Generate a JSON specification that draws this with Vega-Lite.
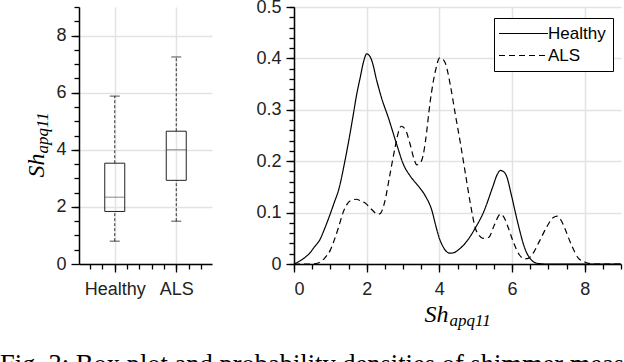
{
  "$schema": "https://vega.github.io/schema/vega-lite/v6.json",
  "padding": {"left": 0, "top": -2, "right": 0, "bottom": 0},
  "spacing": 43,
  "title": {"text": "Fig. 3: Box plot and probability densities of shimmer measures", "orient": "bottom", "anchor": "start", "font": "Liberation Serif", "fontSize": 26.5, "fontWeight": "normal", "color": "black", "offset": 24, "dx": -24},
  "config": {
    "view": {"stroke": null},
    "font": "Liberation Sans",
    "axis": {"labelFont": "Liberation Sans", "labelFontSize": 18, "labelColor": "#222", "domainColor": "black", "domainWidth": 1.5, "ticks": true, "tickColor": "black", "tickOpacity": 1, "tickWidth": 1.3, "gridColor": "#e3e3e3", "gridWidth": 1.5, "titleColor": "black", "titleFont": "Liberation Serif", "titleFontStyle": "italic", "titleFontWeight": "normal"}
  },
  "hconcat": [
    {
      "width": 133,
      "height": 257,
      "data": {"values": [
        {"group": "Healthy", "pos": 1, "lower": 0.8, "q1": 1.84, "median": 2.34, "q3": 3.53, "upper": 5.88},
        {"group": "ALS", "pos": 2, "lower": 1.5, "q1": 2.93, "median": 4.0, "q3": 4.65, "upper": 7.25}
      ]},
      "resolve": {"axis": {"x": "independent", "y": "independent"}},
      "layer": [
        {
          "mark": {"type": "rule", "strokeDash": [3, 2], "color": "black", "strokeWidth": 0.8},
          "encoding": {
            "x": {"field": "pos", "type": "quantitative", "scale": {"domain": [0.5, 2.5], "nice": false, "zero": false},
                  "axis": {"orient": "bottom", "values": [1, 2], "labelExpr": "datum.value == 1 ? 'Healthy' : 'ALS'", "grid": true, "ticks": true, "tickSize": 8, "labelPadding": 8, "title": null}},
            "y": {"field": "q3", "type": "quantitative", "scale": {"domain": [0, 9], "nice": false},
                  "axis": {"orient": "left", "values": [0, 2, 4, 6, 8], "grid": true, "ticks": true, "tickSize": 8, "labelPadding": 5, "title": "Sh", "titleFontSize": 24, "titleAngle": -90, "titleX": -36, "titleY": 170, "titleAlign": "left", "titleBaseline": "alphabetic"}},
            "y2": {"field": "upper"}
          }
        },
        {
          "mark": {"type": "rule", "strokeDash": [3, 2], "color": "black", "strokeWidth": 0.8},
          "encoding": {
            "x": {"field": "pos", "type": "quantitative",
                  "axis": {"orient": "bottom", "values": [0.6, 0.8, 1, 1.2, 1.4, 1.6, 1.8, 2, 2.2, 2.4], "ticks": true, "tickSize": 5, "labels": false, "domain": false, "grid": false, "title": null}},
            "y": {"field": "lower", "type": "quantitative",
                  "axis": {"orient": "left", "values": [0.5, 1, 1.5, 2, 2.5, 3, 3.5, 4, 4.5, 5, 5.5, 6, 6.5, 7, 7.5, 8, 8.5, 9], "ticks": true, "tickSize": 5, "labels": false, "domain": false, "grid": false, "title": "apq11", "titleFontSize": 17, "titleAngle": -90, "titleX": -32, "titleY": 146, "titleAlign": "left", "titleBaseline": "alphabetic"}},
            "y2": {"field": "q1"}
          }
        },
        {
          "mark": {"type": "bar", "filled": false, "stroke": "#222", "strokeWidth": 1, "width": 20},
          "encoding": {
            "x": {"field": "pos", "type": "quantitative", "axis": null},
            "y": {"field": "q1", "type": "quantitative", "axis": null},
            "y2": {"field": "q3"}
          }
        },
        {
          "mark": {"type": "tick", "orient": "horizontal", "color": "#555", "size": 20, "thickness": 1},
          "encoding": {
            "x": {"field": "pos", "type": "quantitative", "axis": null},
            "y": {"field": "median", "type": "quantitative", "axis": null}
          }
        },
        {
          "mark": {"type": "tick", "orient": "horizontal", "color": "black", "size": 10, "thickness": 1},
          "encoding": {
            "x": {"field": "pos", "type": "quantitative", "axis": null},
            "y": {"field": "upper", "type": "quantitative", "axis": null}
          }
        },
        {
          "mark": {"type": "tick", "orient": "horizontal", "color": "black", "size": 10, "thickness": 1},
          "encoding": {
            "x": {"field": "pos", "type": "quantitative", "axis": null},
            "y": {"field": "lower", "type": "quantitative", "axis": null}
          }
        }
      ]
    },
    {
      "width": 327,
      "height": 257,
      "data": {"values": [
        {"group": "Healthy", "x": 0, "density": 0},
        {"group": "Healthy", "x": 0.11, "density": 0.004},
        {"group": "Healthy", "x": 0.29, "density": 0.012},
        {"group": "Healthy", "x": 0.43, "density": 0.021},
        {"group": "Healthy", "x": 0.57, "density": 0.034},
        {"group": "Healthy", "x": 0.71, "density": 0.047},
        {"group": "Healthy", "x": 0.85, "density": 0.07},
        {"group": "Healthy", "x": 0.99, "density": 0.096},
        {"group": "Healthy", "x": 1.12, "density": 0.122},
        {"group": "Healthy", "x": 1.22, "density": 0.142},
        {"group": "Healthy", "x": 1.4, "density": 0.2},
        {"group": "Healthy", "x": 1.52, "density": 0.245},
        {"group": "Healthy", "x": 1.63, "density": 0.29},
        {"group": "Healthy", "x": 1.72, "density": 0.328},
        {"group": "Healthy", "x": 1.82, "density": 0.362},
        {"group": "Healthy", "x": 1.92, "density": 0.395},
        {"group": "Healthy", "x": 2.0, "density": 0.409},
        {"group": "Healthy", "x": 2.07, "density": 0.406},
        {"group": "Healthy", "x": 2.14, "density": 0.396},
        {"group": "Healthy", "x": 2.28, "density": 0.356},
        {"group": "Healthy", "x": 2.41, "density": 0.323},
        {"group": "Healthy", "x": 2.6, "density": 0.284},
        {"group": "Healthy", "x": 2.83, "density": 0.232},
        {"group": "Healthy", "x": 3.01, "density": 0.194},
        {"group": "Healthy", "x": 3.2, "density": 0.171},
        {"group": "Healthy", "x": 3.43, "density": 0.151},
        {"group": "Healthy", "x": 3.61, "density": 0.133},
        {"group": "Healthy", "x": 3.8, "density": 0.103},
        {"group": "Healthy", "x": 3.9, "density": 0.075},
        {"group": "Healthy", "x": 4.0, "density": 0.05},
        {"group": "Healthy", "x": 4.1, "density": 0.034},
        {"group": "Healthy", "x": 4.2, "density": 0.024},
        {"group": "Healthy", "x": 4.3, "density": 0.021},
        {"group": "Healthy", "x": 4.4, "density": 0.022},
        {"group": "Healthy", "x": 4.55, "density": 0.029},
        {"group": "Healthy", "x": 4.72, "density": 0.041},
        {"group": "Healthy", "x": 4.99, "density": 0.07},
        {"group": "Healthy", "x": 5.23, "density": 0.103},
        {"group": "Healthy", "x": 5.46, "density": 0.148},
        {"group": "Healthy", "x": 5.6, "density": 0.175},
        {"group": "Healthy", "x": 5.68, "density": 0.182},
        {"group": "Healthy", "x": 5.76, "density": 0.18},
        {"group": "Healthy", "x": 5.85, "density": 0.171},
        {"group": "Healthy", "x": 5.98, "density": 0.135},
        {"group": "Healthy", "x": 6.17, "density": 0.077},
        {"group": "Healthy", "x": 6.35, "density": 0.031},
        {"group": "Healthy", "x": 6.53, "density": 0.008},
        {"group": "Healthy", "x": 6.72, "density": 0.001},
        {"group": "Healthy", "x": 6.9, "density": 0},
        {"group": "Healthy", "x": 9, "density": 0},
        {"group": "ALS", "x": 0, "density": 0},
        {"group": "ALS", "x": 0.5, "density": 0},
        {"group": "ALS", "x": 0.7, "density": 0.003},
        {"group": "ALS", "x": 0.85, "density": 0.012},
        {"group": "ALS", "x": 1.0, "density": 0.027},
        {"group": "ALS", "x": 1.1, "density": 0.045},
        {"group": "ALS", "x": 1.22, "density": 0.07},
        {"group": "ALS", "x": 1.35, "density": 0.1},
        {"group": "ALS", "x": 1.45, "density": 0.115},
        {"group": "ALS", "x": 1.55, "density": 0.123},
        {"group": "ALS", "x": 1.72, "density": 0.126},
        {"group": "ALS", "x": 1.85, "density": 0.122},
        {"group": "ALS", "x": 1.95, "density": 0.119},
        {"group": "ALS", "x": 2.14, "density": 0.106},
        {"group": "ALS", "x": 2.3, "density": 0.097},
        {"group": "ALS", "x": 2.37, "density": 0.098},
        {"group": "ALS", "x": 2.5, "density": 0.122},
        {"group": "ALS", "x": 2.64, "density": 0.174},
        {"group": "ALS", "x": 2.78, "density": 0.226},
        {"group": "ALS", "x": 2.88, "density": 0.258},
        {"group": "ALS", "x": 2.95, "density": 0.268},
        {"group": "ALS", "x": 3.06, "density": 0.262},
        {"group": "ALS", "x": 3.2, "density": 0.232},
        {"group": "ALS", "x": 3.3, "density": 0.205},
        {"group": "ALS", "x": 3.38, "density": 0.193},
        {"group": "ALS", "x": 3.45, "density": 0.195},
        {"group": "ALS", "x": 3.55, "density": 0.21},
        {"group": "ALS", "x": 3.62, "density": 0.24},
        {"group": "ALS", "x": 3.75, "density": 0.317},
        {"group": "ALS", "x": 3.89, "density": 0.375},
        {"group": "ALS", "x": 4.01, "density": 0.401},
        {"group": "ALS", "x": 4.1, "density": 0.398},
        {"group": "ALS", "x": 4.17, "density": 0.39},
        {"group": "ALS", "x": 4.3, "density": 0.349},
        {"group": "ALS", "x": 4.44, "density": 0.291},
        {"group": "ALS", "x": 4.58, "density": 0.235},
        {"group": "ALS", "x": 4.72, "density": 0.175},
        {"group": "ALS", "x": 4.86, "density": 0.115},
        {"group": "ALS", "x": 4.99, "density": 0.07},
        {"group": "ALS", "x": 5.1, "density": 0.055},
        {"group": "ALS", "x": 5.2, "density": 0.05},
        {"group": "ALS", "x": 5.36, "density": 0.052},
        {"group": "ALS", "x": 5.52, "density": 0.077},
        {"group": "ALS", "x": 5.68, "density": 0.097},
        {"group": "ALS", "x": 5.8, "density": 0.088},
        {"group": "ALS", "x": 5.9, "density": 0.07},
        {"group": "ALS", "x": 6.03, "density": 0.044},
        {"group": "ALS", "x": 6.2, "density": 0.018},
        {"group": "ALS", "x": 6.35, "density": 0.01},
        {"group": "ALS", "x": 6.45, "density": 0.011},
        {"group": "ALS", "x": 6.57, "density": 0.02},
        {"group": "ALS", "x": 6.76, "density": 0.045},
        {"group": "ALS", "x": 6.94, "density": 0.07},
        {"group": "ALS", "x": 7.13, "density": 0.09},
        {"group": "ALS", "x": 7.25, "density": 0.093},
        {"group": "ALS", "x": 7.35, "density": 0.085},
        {"group": "ALS", "x": 7.45, "density": 0.07},
        {"group": "ALS", "x": 7.63, "density": 0.038},
        {"group": "ALS", "x": 7.82, "density": 0.012},
        {"group": "ALS", "x": 8.0, "density": 0.004},
        {"group": "ALS", "x": 8.28, "density": 0},
        {"group": "ALS", "x": 9, "density": 0}
      ]},
      "resolve": {"axis": {"x": "independent", "y": "independent"}},
      "layer": [
        {
          "transform": [{"filter": "datum.group == 'Healthy'"}],
          "mark": {"type": "line", "color": "black", "strokeWidth": 1.2, "interpolate": "monotone"},
          "encoding": {
            "x": {"field": "x", "type": "quantitative", "scale": {"domain": [0, 9], "nice": false},
                  "axis": {"orient": "bottom", "values": [0, 2, 4, 6, 8], "grid": true, "ticks": true, "tickSize": 8, "labelPadding": 8, "title": "Sh", "titleFontSize": 24, "titleX": 130, "titleY": 57, "titleAlign": "left", "titleBaseline": "alphabetic", "titleAngle": 0}},
            "y": {"field": "density", "type": "quantitative", "scale": {"domain": [0, 0.5], "nice": false},
                  "axis": {"orient": "left", "values": [0, 0.1, 0.2, 0.3, 0.4, 0.5], "labelExpr": "datum.value == 0 ? '0' : format(datum.value, '.1f')", "grid": true, "ticks": true, "tickSize": 8, "labelPadding": 5, "title": null}},
            "strokeDash": {"field": "group", "type": "nominal", "scale": {"domain": ["Healthy", "ALS"], "range": [[1, 0], [6, 4]]},
                  "legend": {"title": null, "orient": "none", "legendX": 415, "legendY": 11, "strokeColor": "black", "fillColor": "white", "padding": 7, "symbolType": "M-4,0H4", "symbolSize": 150, "symbolStrokeWidth": 1, "symbolStrokeColor": "black", "symbolOffset": 14, "labelOffset": 16, "labelFontSize": 17, "labelFont": "Liberation Sans", "labelColor": "black", "rowPadding": 4}}
          }
        },
        {
          "transform": [{"filter": "datum.group == 'ALS'"}],
          "mark": {"type": "line", "color": "black", "strokeWidth": 1.2, "interpolate": "monotone"},
          "encoding": {
            "x": {"field": "x", "type": "quantitative",
                  "axis": {"orient": "bottom", "values": [0, 0.5, 1, 1.5, 2, 2.5, 3, 3.5, 4, 4.5, 5, 5.5, 6, 6.5, 7, 7.5, 8, 8.5, 9], "ticks": true, "tickSize": 5, "labels": false, "domain": false, "grid": false, "title": "apq11", "titleFontSize": 17, "titleX": 155, "titleY": 61, "titleAlign": "left", "titleBaseline": "alphabetic", "titleAngle": 0}},
            "y": {"field": "density", "type": "quantitative",
                  "axis": {"orient": "left", "values": [0, 0.02, 0.04, 0.06, 0.08, 0.1, 0.12, 0.14, 0.16, 0.18, 0.2, 0.22, 0.24, 0.26, 0.28, 0.3, 0.32, 0.34, 0.36, 0.38, 0.4, 0.42, 0.44, 0.46, 0.48, 0.5], "ticks": true, "tickSize": 5, "labels": false, "domain": false, "grid": false, "title": null}},
            "strokeDash": {"field": "group", "type": "nominal",
                  "legend": {"title": null, "orient": "none", "legendX": 415, "legendY": 11, "strokeColor": "black", "fillColor": "white", "padding": 7, "symbolType": "M-4,0H4", "symbolSize": 150, "symbolStrokeWidth": 1, "symbolStrokeColor": "black", "symbolOffset": 14, "labelOffset": 16, "labelFontSize": 17, "labelFont": "Liberation Sans", "labelColor": "black", "rowPadding": 4}}
          }
        }
      ]
    }
  ]
}
